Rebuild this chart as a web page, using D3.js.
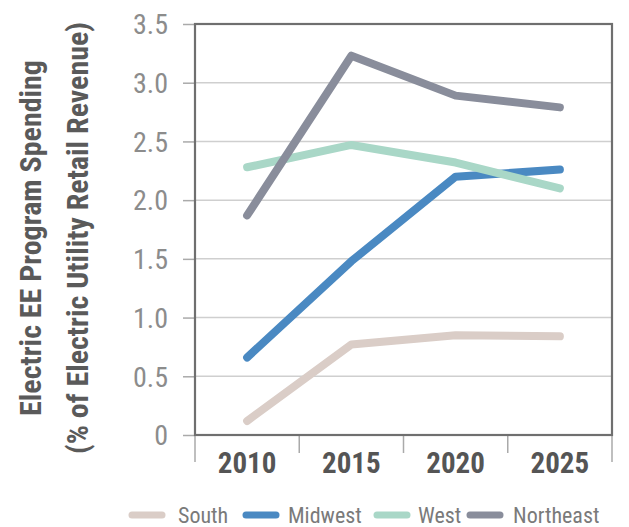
<!DOCTYPE html>
<html><head><meta charset="utf-8">
<script src="https://cdn.jsdelivr.net/npm/d3@7"></script>
<style>
body{margin:0;background:#fff;}
svg text{font-family:"Liberation Sans Narrow","Roboto Condensed","Roboto",sans-serif;}
</style></head>
<body><svg id="c" width="629" height="527"></svg>
<script>
const years = ["2010","2015","2020","2025"];
const seriesNames = ["South","Midwest","West","Northeast"];
const south = [0.12, 0.77, 0.85, 0.84];
const midwest = [0.66, 1.48, 2.20, 2.26];
const west = [2.28, 2.47, 2.32, 2.10];
const northeast = [1.87, 3.23, 2.89, 2.79];
const yTicks = [0, 0.5, 1.0, 1.5, 2.0, 2.5, 3.0, 3.5];
const yTickLabels = ["0","0.5","1.0","1.5","2.0","2.5","3.0","3.5"];
const colors = ["#dacdc7", "#4a89c2", "#a9d7c7", "#898d9b"];
const seriesValues = [south, midwest, west, northeast];

const svg = d3.select("#c");
const L = 195, R = 612, T = 24, B = 435;
const x = d3.scaleBand().domain(years).range([L, R]);
const y = d3.scaleLinear().domain([0, 3.5]).range([B, T]);

// gridlines
svg.append("g").selectAll("line").data(yTicks.slice(1, -1)).join("line")
  .attr("x1", L).attr("x2", R).attr("y1", d => y(d)).attr("y2", d => y(d))
  .attr("stroke", "#cfcfcf").attr("stroke-width", 1.5);

// y axis
const yAxis = d3.axisLeft(y).tickValues(yTicks).tickSize(12).tickPadding(15)
  .tickFormat((d, i) => yTickLabels[i]);
const gy = svg.append("g").attr("transform", `translate(${L},0)`).call(yAxis);
gy.select(".domain").remove();
gy.selectAll(".tick line").attr("stroke", "#aaa").attr("stroke-width", 1.5);
gy.selectAll(".tick text").attr("fill", "#8c8c8c").attr("font-size", 28).attr("dy", "0.35em");

// x axis ticks at band edges
const edges = years.map(d => x(d)).concat([R]);
svg.append("g").selectAll("line").data(edges).join("line")
  .attr("x1", d => d).attr("x2", d => d).attr("y1", B)
  .attr("y2", (d, i) => (i === 0 || i === edges.length - 1) ? B + 27 : B + 18)
  .attr("stroke", "#aaa").attr("stroke-width", 1.5);
svg.append("g").selectAll("text").data(years).join("text")
  .attr("x", d => x(d) + x.bandwidth() / 2).attr("y", 473)
  .attr("text-anchor", "middle").attr("font-size", 29).attr("font-weight", "bold")
  .attr("fill", "#555").text(d => d);

// frame
svg.append("rect").attr("x", L).attr("y", T).attr("width", R - L).attr("height", B - T)
  .attr("fill", "none").attr("stroke", "#6f6f6f").attr("stroke-width", 2.2);

// lines
const line = d3.line().x((d, i) => x(years[i]) + x.bandwidth() / 2).y(d => y(d));
svg.append("g").selectAll("path").data(seriesValues).join("path")
  .attr("d", d => line(d)).attr("fill", "none")
  .attr("stroke", (d, i) => colors[i]).attr("stroke-width", 8)
  .attr("stroke-linecap", "round").attr("stroke-linejoin", "round");

// y title
const t = svg.append("text").attr("transform", "translate(0,238) rotate(-90)")
  .attr("text-anchor", "middle").attr("font-weight", "bold").attr("fill", "#5a5a5a").attr("font-size", 30);
t.append("tspan").attr("x", 0).attr("y", 41).text("Electric EE Program Spending");
t.append("tspan").attr("x", 0).attr("y", 88).text("(% of Electric Utility Retail Revenue)");

// legend
const legX = [129, 243, 374, 467];
const legTX = [178, 288, 418, 513];
const lg = svg.append("g").selectAll("g").data(seriesNames).join("g");
lg.append("line").attr("x1", (d, i) => legX[i] + 3).attr("x2", (d, i) => legX[i] + 33)
  .attr("y1", 515).attr("y2", 515)
  .attr("stroke", (d, i) => colors[i]).attr("stroke-width", 7).attr("stroke-linecap", "round");
lg.append("text").attr("x", (d, i) => legTX[i]).attr("y", 523).attr("font-size", 22)
  .attr("fill", "#7a7a7a").text(d => d);
</script></body></html>
